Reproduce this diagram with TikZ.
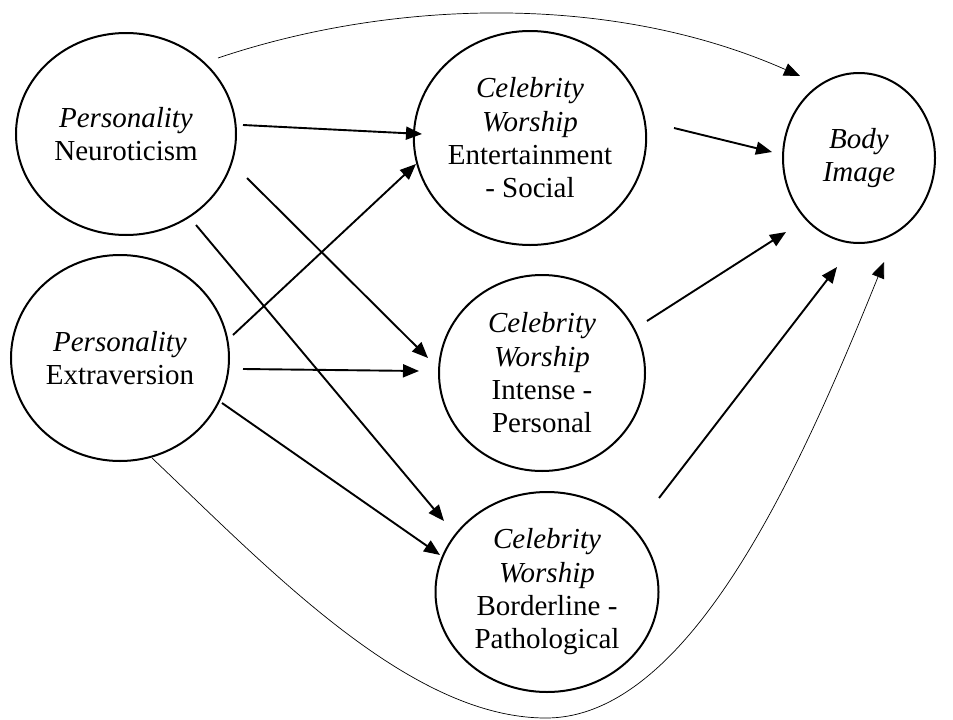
\documentclass[tikz,border=0pt]{standalone}
\usepackage{fontspec}
\setmainfont{Liberation Serif}
\usetikzlibrary{shapes.geometric,arrows.meta,calc}
\begin{document}
\begin{tikzpicture}[x=1pt,y=-1pt,
  latent/.style={draw,ellipse,line width=2pt,inner sep=0pt,align=center,
    font=\fontsize{29}{33.3}\selectfont},
  effect/.style={line width=1.9pt,-{Triangle[length=16pt,width=13pt]}},
  thineffect/.style={line width=0.7pt,-{Triangle[length=16pt,width=13pt]}}]
\useasboundingbox (0,0) rectangle (953,720);
\node[latent,minimum width=220pt,minimum height=202pt] (N) at (126,134) {\textit{Personality}\\Neuroticism};
\node[latent,minimum width=218pt,minimum height=206pt] (E) at (120,358) {\textit{Personality}\\Extraversion};
\node[latent,minimum width=232pt,minimum height=214pt] (ES) at (530,138) {\textit{Celebrity}\\\textit{Worship}\\Entertainment\\- Social};
\node[latent,minimum width=206pt,minimum height=196pt] (IP) at (542,373) {\textit{Celebrity}\\\textit{Worship}\\Intense -\\Personal};
\node[latent,minimum width=223pt,minimum height=200pt] (BP) at (547,592) {\textit{Celebrity}\\\textit{Worship}\\Borderline -\\Pathological};
\node[latent,minimum width=152pt,minimum height=170pt] (BI) at (859,158) {\textit{Body}\\\textit{Image}};

\draw[effect] ($(N)+(117,-9)$) -- ($(ES)+(-108,-4)$);
\draw[effect] ($(E)+(113,-23)$) -- ($(ES)+(-114,26)$);
\draw[effect] ($(N)+(121,44)$) -- ($(IP)+(-114,-15)$);
\draw[effect] ($(E)+(123,11)$) -- ($(IP)+(-123,-2)$);
\draw[effect] ($(N)+(70,91)$) -- ($(BP)+(-103,-71)$);
\draw[effect] ($(E)+(102,45)$) -- ($(BP)+(-107,-37)$);
\draw[effect] ($(ES)+(144,-10)$) -- ($(BI)+(-87,-6)$);
\draw[effect] ($(IP)+(105,-52)$) -- ($(BI)+(-73,74)$);
\draw[effect] ($(BP)+(112,-94)$) -- ($(BI)+(-22,109)$);

\draw[thineffect] ($(N)+(92,-76)$) .. controls (390,0) and (610,-8) .. ($(BI)+(-59,-82)$);
\draw[thineffect] ($(E)+(32,100)$) .. controls (270,570) and (410,718) .. (546,718)
  .. controls (690,718) and (800,470) .. ($(BI)+(25,104)$);
\end{tikzpicture}
\end{document}
